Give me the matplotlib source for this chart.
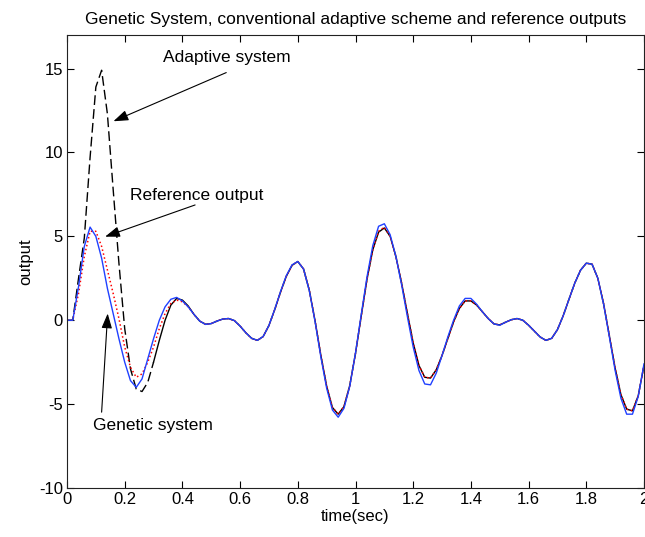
import numpy as np
import matplotlib.pyplot as plt
from matplotlib.ticker import FuncFormatter

plt.rcParams['font.family'] = ['Liberation Sans', 'DejaVu Sans']
plt.rcParams['axes.unicode_minus'] = False

# time axis (s), sampled every 0.02
t = np.round(np.arange(0, 2.0001, 0.02), 2)

# reference output (red dotted)
reference = [
    0.0, 0.0, 1.6, 3.8, 5.3, 5.3, 4.4, 3.0, 1.6, 0.1,
    -1.6, -2.8, -3.4, -3.2, -2.5, -1.6, -0.5, 0.4, 1.0, 1.2,
    1.1, 0.8, 0.35, -0.05, -0.24, -0.2, -0.05, 0.07, 0.1, -0.02,
    -0.35, -0.75, -1.08, -1.2, -0.97, -0.31, 0.63, 1.67, 2.61, 3.27,
    3.5, 3.05, 1.78, -0.05, -2.1, -3.92, -5.2, -5.6, -5.15, -3.9,
    -1.98, 0.26, 2.45, 4.2, 5.3, 5.55, 5.0, 3.8, 2.2, 0.4,
    -1.35, -2.7, -3.4, -3.45, -2.95, -2.1, -1.1, -0.1, 0.7, 1.15,
    1.15, 0.9, 0.5, 0.1, -0.22, -0.28, -0.12, 0.03, 0.1, 0.0,
    -0.3, -0.65, -1.0, -1.2, -1.08, -0.56, 0.27, 1.25, 2.21, 2.98,
    3.4, 3.34, 2.5, 0.98, -0.93, -2.86, -4.43, -5.3, -5.4, -4.5,
    -2.7,
]

# genetic system (blue solid)
genetic = [
    0.0, 0.0, 2.0, 4.4, 5.55, 5.0, 3.7, 1.9, 0.4, -1.1,
    -2.5, -3.6, -4.0, -3.5, -2.3, -1.1, 0.0, 0.8, 1.25, 1.36,
    1.15, 0.8, 0.35, -0.05, -0.25, -0.2, -0.05, 0.07, 0.1, -0.02,
    -0.35, -0.75, -1.08, -1.2, -0.97, -0.31, 0.65, 1.7, 2.65, 3.3,
    3.5, 3.05, 1.75, -0.1, -2.2, -4.05, -5.35, -5.78, -5.25, -3.95,
    -1.95, 0.35, 2.6, 4.45, 5.6, 5.75, 5.1, 3.8, 2.1, 0.2,
    -1.6, -3.0, -3.8, -3.85, -3.15, -2.1, -1.0, 0.0, 0.85, 1.3,
    1.3, 0.95, 0.5, 0.1, -0.22, -0.3, -0.12, 0.03, 0.1, 0.0,
    -0.3, -0.65, -1.0, -1.2, -1.08, -0.56, 0.27, 1.25, 2.21, 2.98,
    3.4, 3.34, 2.5, 0.95, -1.0, -3.0, -4.65, -5.6, -5.6, -4.55,
    -2.6,
]

# conventional adaptive scheme (black)
adaptive = [
    0.0, 0.0, 2.5, 4.9, 9.7, 13.9, 14.9, 12.3, 7.8, 3.4,
    -0.5, -2.9, -4.1, -4.25, -3.7, -2.5, -1.2, 0.0, 0.9, 1.3,
    1.2, 0.85, 0.35, -0.05, -0.24, -0.2, -0.05, 0.07, 0.1, -0.02,
    -0.35, -0.75, -1.08, -1.2, -0.97, -0.31, 0.63, 1.67, 2.61, 3.27,
    3.5, 3.05, 1.78, -0.05, -2.1, -3.92, -5.2, -5.6, -5.15, -3.9,
    -1.98, 0.26, 2.45, 4.2, 5.25, 5.5, 5.0, 3.8, 2.2, 0.4,
    -1.35, -2.7, -3.4, -3.45, -2.95, -2.1, -1.1, -0.1, 0.7, 1.15,
    1.15, 0.9, 0.5, 0.1, -0.22, -0.28, -0.12, 0.03, 0.1, 0.0,
    -0.3, -0.65, -1.0, -1.2, -1.08, -0.56, 0.27, 1.25, 2.21, 2.98,
    3.4, 3.34, 2.5, 0.98, -0.93, -2.86, -4.43, -5.3, -5.4, -4.5,
    -2.7,
]

x_ticks = [0, 0.2, 0.4, 0.6, 0.8, 1.0, 1.2, 1.4, 1.6, 1.8, 2.0]
y_ticks = [-10, -5, 0, 5, 10, 15]


def main():
    fig = plt.figure(figsize=(6.45, 5.37), dpi=100)
    ax = fig.add_axes([67 / 645, 49 / 537, 577 / 645, 453 / 537])

    n_dash = 16  # the spike part shows up dashed in the original
    ax.plot(t[:n_dash], adaptive[:n_dash], color="black", linewidth=1.0,
            dashes=(7, 3))
    ax.plot(t[n_dash - 1:], adaptive[n_dash - 1:], color="black", linewidth=1.0)
    ax.plot(t, reference, color="red", linewidth=1.1, linestyle=":")
    ax.plot(t, genetic, color="#2040ff", linewidth=1.0)

    arrow = dict(arrowstyle="-|>,head_length=0.9,head_width=0.32",
                 color="black", lw=0.8, shrinkA=0, shrinkB=0)
    ax.annotate("", xy=(0.161, 11.86), xytext=(0.552, 14.76), arrowprops=arrow)
    ax.text(0.333, 15.66, "Adaptive system", fontsize=12.5, va="center")
    ax.annotate("", xy=(0.132, 4.98), xytext=(0.444, 6.87), arrowprops=arrow)
    ax.text(0.219, 7.41, "Reference output", fontsize=12.5, va="center")
    ax.annotate("", xy=(0.141, 0.40), xytext=(0.12, -5.48), arrowprops=arrow)
    ax.text(0.089, -6.28, "Genetic system", fontsize=12.5, va="center")

    ax.set_xlim(0, 2)
    ax.set_ylim(-10, 17)
    ax.set_xticks(x_ticks)
    ax.set_yticks(y_ticks)
    ax.xaxis.set_major_formatter(FuncFormatter(lambda v, p: f"{v:g}"))
    ax.tick_params(direction="in", length=5, width=0.8, top=True, right=True,
                   labelsize=12, pad=3)
    for s in ax.spines.values():
        s.set_linewidth(0.8)
        s.set_color("#222222")

    ax.set_title("Genetic System, conventional adaptive scheme and reference outputs",
                 fontsize=12.5, pad=8)
    ax.set_xlabel("time(sec)", fontsize=12, labelpad=1)
    ax.set_ylabel("output", fontsize=12, labelpad=4)

    fig.savefig("out.png", dpi=100)
    plt.close(fig)


if __name__ == "__main__":
    main()
